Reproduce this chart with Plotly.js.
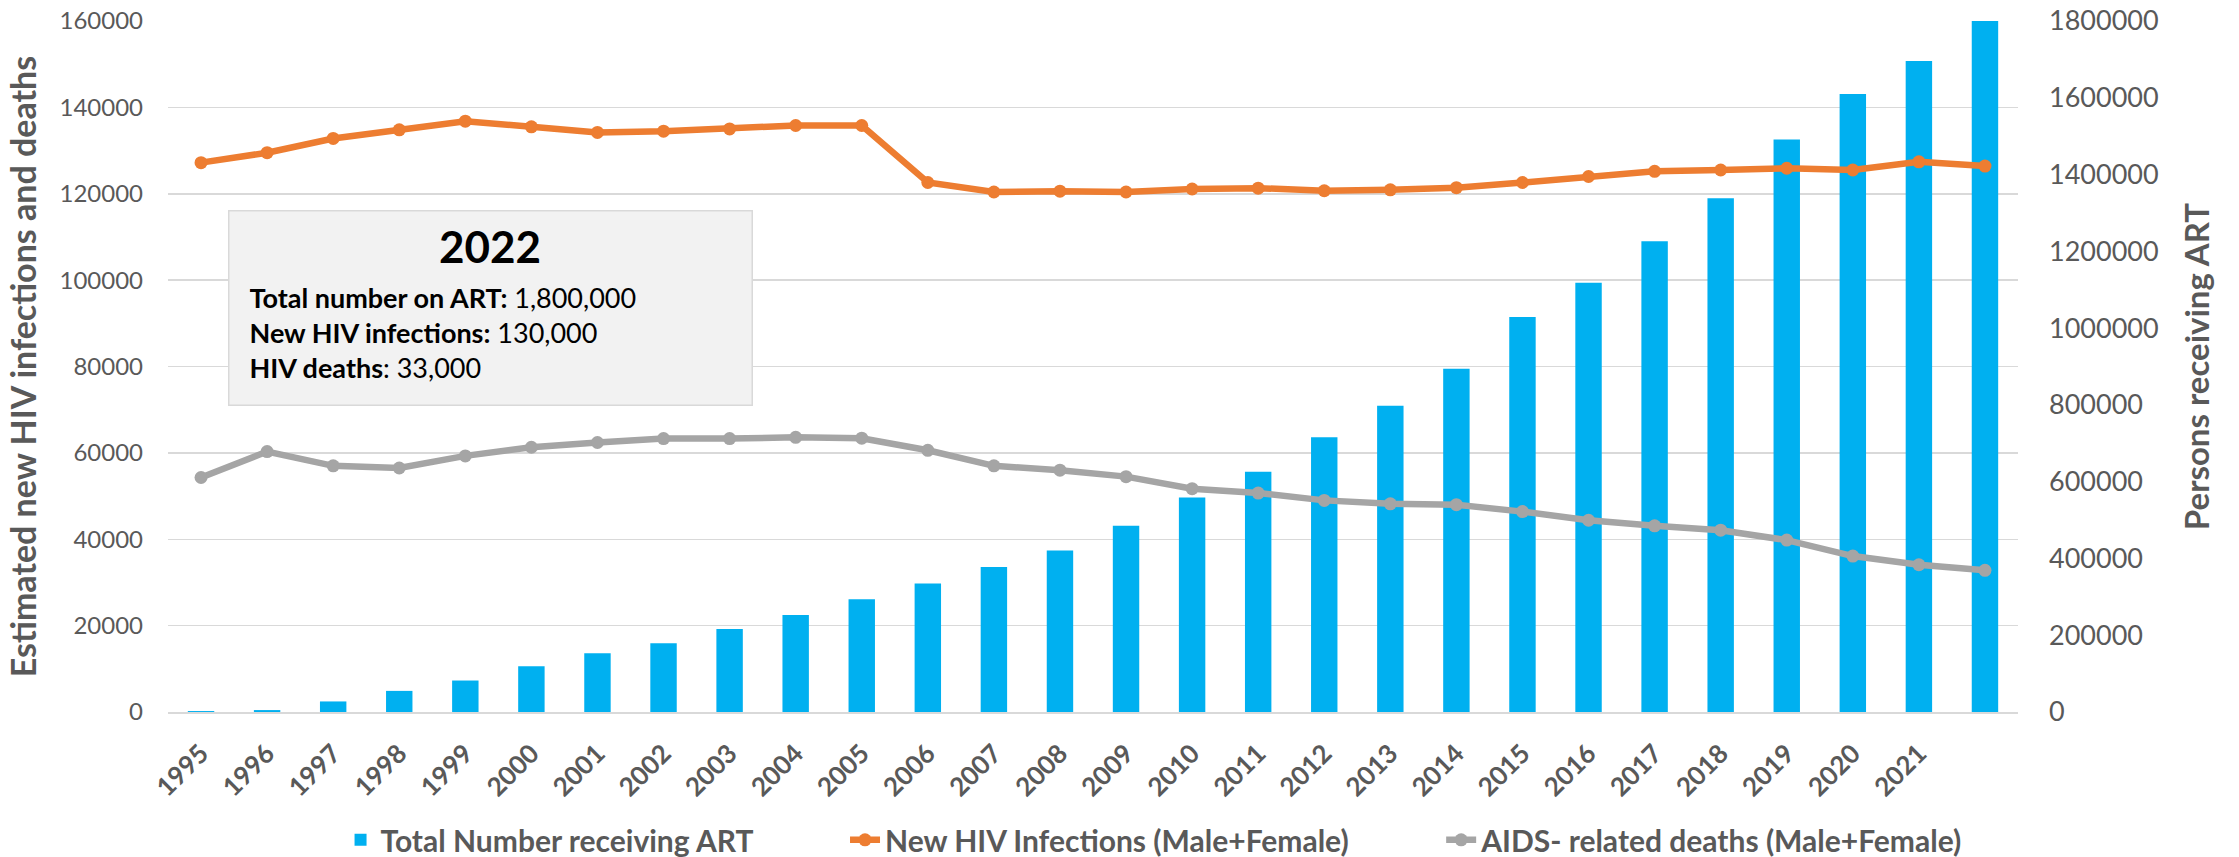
<!DOCTYPE html>
<html>
<head>
<meta charset="utf-8">
<script src="https://cdn.plot.ly/plotly-3.0.1.min.js"></script>
<style>
html,body{margin:0;padding:0;background:#ffffff;}
#chart{width:2239px;height:857px;}
</style>
</head>
<body>
<div id="chart"></div>
<script>
// ---- data ----
const years = ['1995','1996','1997','1998','1999','2000','2001','2002','2003','2004',
               '2005','2006','2007','2008','2009','2010','2011','2012','2013','2014',
               '2015','2016','2017','2018','2019','2020','2021','2022'];
const artTotal = [2500, 5000, 27500, 55000, 82000, 119000, 153000, 179000, 216000, 253000,
                  294000, 335000, 378000, 421000, 485000, 559000, 626000, 716000, 798000, 894000,
                  1029000, 1118000, 1226000, 1338000, 1491000, 1610000, 1696000, 1800000];
const newInfections = [127200, 129500, 132800, 134800, 136800, 135500, 134200, 134500, 135000, 135800,
                       135800, 122600, 120400, 120600, 120400, 121100, 121300, 120700, 120900, 121400,
                       122600, 124000, 125200, 125500, 125900, 125500, 127400, 126400];
const aidsDeaths = [54300, 60300, 57000, 56500, 59300, 61300, 62400, 63300, 63300, 63600,
                    63400, 60600, 57000, 56000, 54500, 51700, 50700, 49000, 48200, 48000,
                    46400, 44400, 43100, 42100, 39800, 36100, 34100, 32800];
const xTickLabels = years.slice(0, 27);   // the last year carries no label in the source
const seriesNames = ['Total Number receiving ART', 'New HIV Infections (Male+Female)', 'AIDS- related deaths (Male+Female)'];
const summaryYear = '2022';
const summaryLabels = ['Total number on ART:', 'New HIV infections:', 'HIV deaths'];
const summaryValues = ['1,800,000', '130,000', '33,000'];

// ---- styles ----
const GRAY = '#595959';
const FONT = 'Lato, "Open Sans", sans-serif';
const GAP = '\u00a0'.repeat(12);

const traces = [
  {
    type: 'bar', name: seriesNames[0] + GAP, x: years, y: artTotal,
    xaxis: 'x', yaxis: 'y',
    marker: {color: '#00B0F0', line: {width: 0}}
  },
  {
    type: 'scatter', mode: 'lines+markers', name: seriesNames[1] + GAP, x: years, y: newInfections,
    xaxis: 'x', yaxis: 'y2',
    line: {color: '#ED7D31', width: 6.5},
    marker: {color: '#ED7D31', size: 13}
  },
  {
    type: 'scatter', mode: 'lines+markers', name: seriesNames[2], x: years, y: aidsDeaths,
    xaxis: 'x', yaxis: 'y2',
    line: {color: '#A5A5A5', width: 6.5},
    marker: {color: '#A5A5A5', size: 13}
  }
];

const summaryText = summaryLabels.map((l, i) =>
  i === 2 ? '<b>' + l + '</b>: ' + summaryValues[i] : '<b>' + l + '</b> ' + summaryValues[i]
).join('<br>');

const layout = {
  width: 2239, height: 857,
  margin: {l: 168, r: 221, t: 21, b: 145, pad: 0},
  paper_bgcolor: '#ffffff', plot_bgcolor: 'rgba(0,0,0,0)',
  font: {family: FONT, color: GRAY},
  bargap: 0.6,
  showlegend: true,
  legend: {
    orientation: 'h', xref: 'paper', x: 0.533, xanchor: 'center',
    yref: 'container', y: 0.02, yanchor: 'middle',
    font: {family: FONT, size: 30, weight: 'bold', color: GRAY},
    traceorder: 'normal', itemwidth: 30
  },
  xaxis: {
    type: 'category', range: [-0.5, 27.5],
    tickmode: 'array', tickvals: xTickLabels, ticktext: xTickLabels,
    tickangle: -45, tickfont: {family: FONT, size: 26, weight: 'bold', color: GRAY},
    showgrid: false, showline: true, linecolor: '#D9D9D9', linewidth: 2,
    ticks: '', automargin: false, ticklabelstandoff: 14
  },
  yaxis: {
    side: 'right', range: [0, 1800000], dtick: 200000, tickformat: 'd',
    showgrid: false, zeroline: false, showline: false, ticks: '',
    tickfont: {family: FONT, size: 27, color: GRAY},
    title: {text: 'Persons receiving ART', font: {family: FONT, size: 33, weight: 'bold', color: GRAY}, standoff: 28},
    automargin: false, ticklabelstandoff: 30
  },
  yaxis2: {
    side: 'left', overlaying: 'y', range: [0, 160000], dtick: 20000, tickformat: 'd',
    showgrid: true, gridcolor: '#D9D9D9', gridwidth: 1.5, zeroline: false, showline: false, ticks: '',
    tickfont: {family: FONT, size: 24, color: GRAY},
    title: {text: 'Estimated new HIV infections and deaths', font: {family: FONT, size: 34, weight: 'bold', color: GRAY}, standoff: 12},
    automargin: false, ticklabelstandoff: 24
  },
  annotations: [
    {
      xref: 'paper', yref: 'paper', x: 0.0324, y: 0.7265, xanchor: 'left', yanchor: 'top',
      showarrow: false, width: 482, height: 153, borderpad: 20,
      bgcolor: '#F2F2F2', bordercolor: '#D9D9D9', borderwidth: 1.5,
      align: 'left', valign: 'bottom',
      text: summaryText,
      font: {family: FONT, size: 27, color: '#000000'}
    },
    {
      xref: 'paper', yref: 'paper', x: 0.174, y: 0.6744, xanchor: 'center', yanchor: 'middle',
      showarrow: false, text: '<b>' + summaryYear + '</b>',
      font: {family: FONT, size: 44, color: '#000000'}
    }
  ]
};

Plotly.newPlot('chart', traces, layout, {staticPlot: true, displayModeBar: false});
</script>
</body>
</html>
